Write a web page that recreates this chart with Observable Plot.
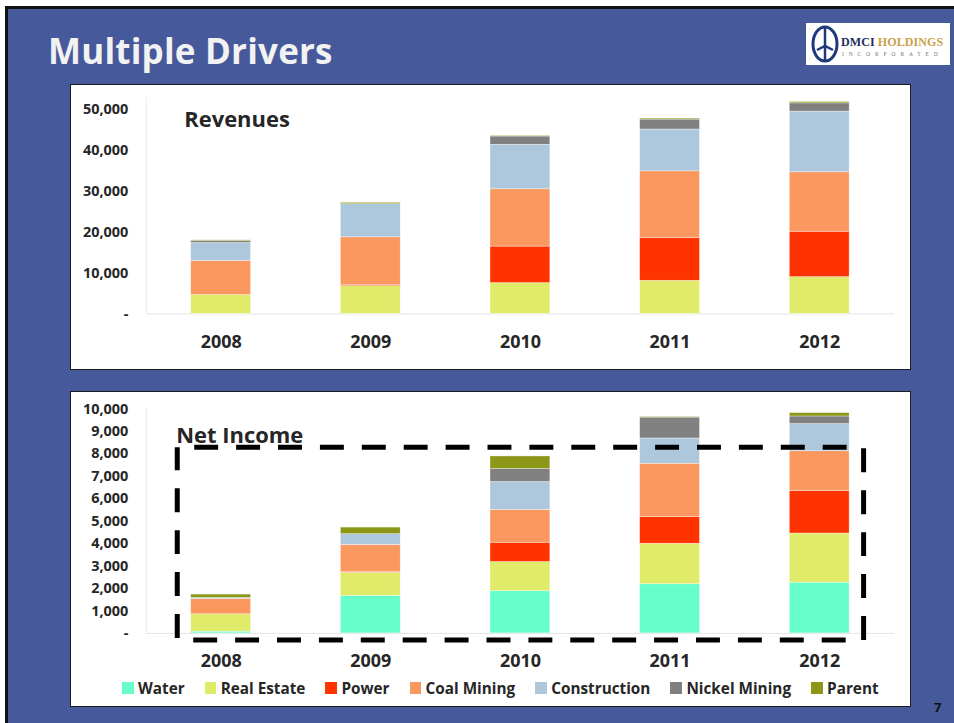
<!DOCTYPE html>
<html>
<head>
<meta charset="utf-8">
<script src="https://cdn.jsdelivr.net/npm/d3@7"></script>
<script src="https://cdn.jsdelivr.net/npm/@observablehq/plot@0.6"></script>
<style>
  html, body { margin: 0; padding: 0; background: #ffffff; width: 954px; height: 723px; overflow: hidden; }
  body { position: relative; font-family: "Open Sans", Lato, sans-serif; }
  #slide { position: absolute; left: 5px; top: 6px; width: 960px; height: 730px; border: 3px solid #111; background: #46599a; box-sizing: border-box; }
  #title { position: absolute; left: 48px; top: 31px; font-family: "Open Sans", sans-serif; font-size: 35px; line-height: 40px; font-weight: 700; color: #f2f2f2; white-space: nowrap; letter-spacing: 0.2px; }
  .panel { position: absolute; left: 70px; width: 841px; background: #fff; border: 1.5px solid #1c1c1c; box-sizing: border-box; }
  #p1 { top: 84px; height: 286px; }
  #p2 { top: 391px; height: 316px; }
  .chart { position: absolute; left: -1.5px; top: -1.5px; }
  #legend { position: absolute; left: 51px; top: 286px; height: 20px; display: flex; align-items: center; font-size: 15.3px; font-weight: 700; color: #262626; white-space: nowrap; }
  .li { display: flex; align-items: center; margin-right: 20px; }
  .sw { width: 11.5px; height: 11.5px; margin-right: 4.5px; }
  #logo { position: absolute; left: 806px; top: 23px; width: 144px; height: 42px; background: #fff; }
  #logo .d1 { position: absolute; left: 35px; top: 12px; font-family: "Liberation Serif", serif; font-weight: 700; font-size: 12px; letter-spacing: 0.1px; white-space: nowrap; }
  #logo .d2 { position: absolute; left: 36px; top: 28px; font-family: "Liberation Serif", serif; font-size: 5.5px; letter-spacing: 4.9px; color: #777; white-space: nowrap; }
  #pnum { position: absolute; left: 934px; top: 698px; font-size: 13px; font-weight: 700; color: #111; }
</style>
</head>
<body>
<div id="slide"></div>
<div id="title">Multiple Drivers</div>
<div id="logo">
  <svg width="32" height="40" style="position:absolute;left:3px;top:1px">
    <ellipse cx="16" cy="20" rx="12" ry="17" fill="none" stroke="#1f3a7a" stroke-width="3"/>
    <path d="M16 4 L16 36 M8 26 L16 22 L24 26" stroke="#1f3a7a" stroke-width="2.5" fill="none"/>
  </svg>
  <div class="d1"><span style="color:#1f2f5f">DMCI</span> <span style="color:#c9a14a">HOLDINGS</span></div>
  <div class="d2">INCORPORATED</div>
</div>
<div class="panel" id="p1"></div>
<div class="panel" id="p2"><div id="legend"></div></div>
<div id="pnum">7</div>

<script>
// ---------- data ----------
const years = ["2008", "2009", "2010", "2011", "2012"];
const segments = ["Water", "Real Estate", "Power", "Coal Mining", "Construction", "Nickel Mining", "Parent"];
const segmentColors = ["#66ffcc", "#e0eb6a", "#ff3300", "#fb9860", "#adc8dd", "#808080", "#8c9617"];

// Revenues (PHP millions), by segment, 2008-2012
const revWater        = [0, 0, 0, 0, 0];
const revRealEstate   = [4600, 6800, 7520, 8090, 8980];
const revPower        = [0, 310, 8910, 10440, 11080];
const revCoalMining   = [8330, 11580, 13980, 16260, 14490];
const revConstruction = [4370, 8080, 10850, 10200, 14800];
const revNickelMining = [480, 0, 2020, 2420, 2020];
const revParent       = [170, 340, 170, 240, 330];

// Net income (PHP millions), by segment, 2008-2012
const niWater        = [80, 1670, 1880, 2190, 2260];
const niRealEstate   = [770, 1030, 1300, 1805, 2190];
const niPower        = [0, 30, 860, 1185, 1890];
const niCoalMining   = [680, 1215, 1465, 2380, 1775];
const niConstruction = [50, 475, 1240, 1125, 1210];
const niNickelMining = [0, 0, 580, 930, 340];
const niParent       = [150, 295, 560, 30, 150];

const revTicks = [0, 10000, 20000, 30000, 40000, 50000];
const niTicks = [0, 1000, 2000, 3000, 4000, 5000, 6000, 7000, 8000, 9000, 10000];

// ---------- build tables ----------
function table(series) {
  const rows = [];
  years.forEach((year, i) => {
    segments.forEach((seg, j) => rows.push({year, segment: seg, value: series[j][i]}));
  });
  return rows;
}
const revData = table([revWater, revRealEstate, revPower, revCoalMining, revConstruction, revNickelMining, revParent]);
const niData = table([niWater, niRealEstate, niPower, niCoalMining, niConstruction, niNickelMining, niParent]);

const fmt = v => v === 0 ? "-" : d3.format(",")(v);
const font = "'Open Sans', Lato, sans-serif";

function chart({data, height, marginTop, marginBottom, yDomain, ticks, label, labelDx, labelDy, extra}) {
  return Plot.plot({
    width: 841,
    height,
    marginLeft: 76,
    marginRight: 15,
    marginTop,
    marginBottom,
    style: {fontFamily: font, background: "transparent", overflow: "visible"},
    x: {domain: years, paddingInner: 0.6, paddingOuter: 0.3},
    y: {domain: yDomain},
    color: {domain: segments, range: segmentColors},
    marks: [
      Plot.ruleY([0], {stroke: "#e4e4e4", strokeWidth: 1}),
      Plot.ruleX([years[0]], {stroke: "#ececec", dx: -75}),
      Plot.barY(data, {x: "year", y: "value", fill: "segment", stroke: "#ffffff", strokeWidth: 0.6, strokeOpacity: 0.6}),
      Plot.axisY({ticks, tickFormat: fmt, tickSize: 0, tickPadding: 18, label: null, fontSize: 14.5, fontWeight: "bold", fill: "#262626"}),
      Plot.axisX({tickSize: 0, tickPadding: 21, label: null, fontSize: 18, fontWeight: "bold", fill: "#262626"}),
      Plot.text([label], {frameAnchor: "top-left", dx: labelDx, dy: labelDy, fontSize: 22, fontWeight: "bold", fill: "#262626", textAnchor: "start", lineAnchor: "top"}),
      ...(extra || [])
    ]
  });
}

const revChart = chart({
  data: revData, height: 286, marginTop: 13, marginBottom: 56,
  yDomain: [0, 52800], ticks: revTicks, label: "Revenues", labelDx: 38, labelDy: 14
});
revChart.classList.add("chart");
document.getElementById("p1").appendChild(revChart);

const niChart = chart({
  data: niData, height: 286, marginTop: 17.5, marginBottom: 43.5,
  yDomain: [0, 10000], ticks: niTicks, label: "Net Income", labelDx: 30, labelDy: 18,
  extra: [
    Plot.frame({stroke: "#000", strokeWidth: 5, strokeDasharray: "24,18", strokeDashoffset: 25, fill: "none",
      insetLeft: 31, insetRight: 31, insetTop: 38.5, insetBottom: -6.5})
  ]
});
niChart.classList.add("chart");
document.getElementById("p2").appendChild(niChart);

// ---------- legend ----------
const legend = document.getElementById("legend");
segments.forEach((seg, i) => {
  const item = document.createElement("div");
  item.className = "li";
  const sw = document.createElement("div");
  sw.className = "sw";
  sw.style.background = segmentColors[i];
  const t = document.createElement("span");
  t.textContent = seg;
  item.appendChild(sw);
  item.appendChild(t);
  legend.appendChild(item);
});
</script>
</body>
</html>
